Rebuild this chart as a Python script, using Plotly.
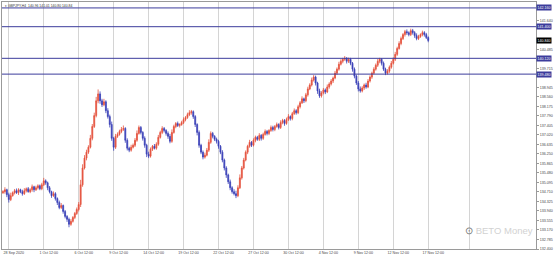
import plotly.graph_objects as go

symbol_title = "GBPJPY,H4  140.96 141.01 140.80 140.84"
first_open = 134.68

closes = [
    134.72, 134.80, 134.60, 134.40, 134.56, 134.68, 134.76, 134.68, 134.80, 134.72, 134.64, 134.76, 134.84, 134.72, 134.80, 134.92, 134.80, 134.88, 134.96, 134.84,
    135.00, 135.16, 135.08, 134.88, 134.72, 134.56, 134.64, 134.44, 134.28, 134.08, 134.16, 133.92, 133.72, 133.60, 133.40, 133.52, 133.68, 133.84, 134.00, 134.20,
    135.00, 135.68, 136.08, 136.32, 136.52, 136.88, 137.36, 137.80, 138.40, 138.68, 138.40, 138.24, 138.36, 138.00, 137.76, 137.44, 136.88, 136.52, 136.96, 137.04,
    137.16, 137.24, 137.28, 136.80, 136.48, 136.40, 136.52, 136.60, 136.80, 137.08, 137.32, 137.12, 136.88, 136.60, 136.24, 136.16, 136.44, 136.56, 136.48, 136.64,
    136.92, 137.12, 137.28, 137.20, 137.08, 136.96, 136.76, 137.12, 137.36, 137.48, 137.40, 137.44, 137.52, 137.64, 137.72, 137.84, 137.92, 137.96, 137.76, 137.44,
    137.12, 136.60, 136.32, 136.12, 136.20, 136.40, 136.72, 137.08, 136.96, 136.84, 136.76, 136.56, 136.32, 136.00, 135.68, 135.40, 135.12, 134.88, 134.72, 134.64,
    134.56, 134.88, 135.28, 135.68, 136.00, 136.32, 136.56, 136.72, 136.60, 136.80, 136.92, 136.84, 137.00, 136.88, 137.04, 137.16, 137.08, 137.20, 137.32, 137.24,
    137.36, 137.44, 137.32, 137.52, 137.60, 137.48, 137.64, 137.76, 137.68, 137.88, 138.00, 137.92, 138.16, 138.32, 138.48, 138.40, 138.64, 138.88, 139.04, 139.24,
    139.36, 139.12, 138.80, 138.60, 138.72, 138.84, 138.76, 138.96, 139.08, 139.20, 139.32, 139.52, 139.68, 139.88, 140.00, 140.08, 140.12, 140.00, 140.08, 139.92,
    139.68, 139.40, 139.12, 138.88, 138.80, 138.92, 139.04, 138.96, 139.20, 139.36, 139.52, 139.68, 139.84, 140.00, 140.08, 139.92, 139.68, 139.52, 139.60, 139.76,
    139.92, 140.08, 140.28, 140.52, 140.72, 140.92, 141.08, 141.20, 141.16, 141.08, 141.24, 141.16, 141.04, 140.92, 141.00, 141.08, 141.16, 141.08, 140.96, 140.84,
]

wick_up = [
    0.06, 0.10, 0.04, 0.08, 0.12, 0.05, 0.07, 0.09, 0.06, 0.04, 0.08, 0.10, 0.05, 0.07, 0.06, 0.09, 0.04, 0.08, 0.06, 0.05,
    0.08, 0.12, 0.06, 0.05, 0.07, 0.04, 0.09, 0.06, 0.05, 0.08, 0.10, 0.04, 0.06, 0.05, 0.07, 0.09, 0.05, 0.06, 0.08, 0.10,
    0.20, 0.15, 0.12, 0.10, 0.08, 0.14, 0.10, 0.12, 0.16, 0.18, 0.10, 0.08, 0.12, 0.06, 0.10, 0.08, 0.12, 0.06, 0.10, 0.08,
    0.07, 0.10, 0.12, 0.05, 0.08, 0.06, 0.10, 0.07, 0.09, 0.12, 0.08, 0.06, 0.05, 0.08, 0.06, 0.10, 0.07, 0.05, 0.09, 0.08,
    0.10, 0.07, 0.09, 0.06, 0.05, 0.08, 0.10, 0.12, 0.07, 0.06, 0.08, 0.05, 0.07, 0.09, 0.06, 0.08, 0.10, 0.07, 0.05, 0.06,
    0.05, 0.08, 0.06, 0.07, 0.10, 0.09, 0.12, 0.08, 0.06, 0.05, 0.07, 0.06, 0.05, 0.08, 0.06, 0.07, 0.05, 0.09, 0.06, 0.10,
    0.12, 0.10, 0.14, 0.08, 0.09, 0.07, 0.06, 0.10, 0.05, 0.08, 0.07, 0.06, 0.09, 0.05, 0.07, 0.08, 0.06, 0.05, 0.08, 0.07,
    0.06, 0.08, 0.05, 0.09, 0.07, 0.06, 0.08, 0.10, 0.05, 0.07, 0.09, 0.06, 0.08, 0.07, 0.10, 0.05, 0.08, 0.09, 0.07, 0.10,
    0.08, 0.06, 0.05, 0.09, 0.07, 0.08, 0.06, 0.10, 0.07, 0.08, 0.06, 0.09, 0.07, 0.10, 0.08, 0.06, 0.09, 0.05, 0.07, 0.06,
    0.05, 0.07, 0.06, 0.08, 0.10, 0.07, 0.06, 0.09, 0.08, 0.07, 0.06, 0.08, 0.07, 0.09, 0.06, 0.05, 0.07, 0.06, 0.08, 0.07,
    0.09, 0.08, 0.10, 0.07, 0.09, 0.08, 0.06, 0.07, 0.09, 0.05, 0.08, 0.07, 0.06, 0.09, 0.07, 0.05, 0.08, 0.06, 0.07, 0.05,
]

wick_dn = [
    0.05, 0.08, 0.10, 0.12, 0.06, 0.04, 0.07, 0.05, 0.09, 0.06, 0.08, 0.05, 0.07, 0.04, 0.06, 0.08, 0.10, 0.05, 0.07, 0.06,
    0.06, 0.05, 0.08, 0.10, 0.07, 0.09, 0.05, 0.08, 0.10, 0.07, 0.06, 0.09, 0.08, 0.10, 0.12, 0.06, 0.05, 0.07, 0.06, 0.08,
    0.10, 0.08, 0.06, 0.09, 0.07, 0.05, 0.08, 0.06, 0.07, 0.10, 0.12, 0.09, 0.06, 0.10, 0.08, 0.12, 0.10, 0.14, 0.07, 0.06,
    0.05, 0.07, 0.06, 0.10, 0.09, 0.08, 0.06, 0.05, 0.07, 0.06, 0.05, 0.08, 0.09, 0.10, 0.12, 0.08, 0.06, 0.07, 0.05, 0.06,
    0.06, 0.05, 0.07, 0.08, 0.09, 0.10, 0.08, 0.06, 0.05, 0.07, 0.06, 0.08, 0.05, 0.06, 0.07, 0.05, 0.06, 0.08, 0.09, 0.10,
    0.12, 0.10, 0.08, 0.09, 0.06, 0.05, 0.07, 0.06, 0.08, 0.07, 0.09, 0.10, 0.08, 0.09, 0.10, 0.12, 0.09, 0.10, 0.08, 0.07,
    0.10, 0.06, 0.05, 0.07, 0.06, 0.05, 0.08, 0.06, 0.07, 0.05, 0.08, 0.06, 0.07, 0.09, 0.06, 0.05, 0.08, 0.07, 0.06, 0.08,
    0.07, 0.05, 0.08, 0.06, 0.07, 0.09, 0.05, 0.06, 0.08, 0.07, 0.05, 0.08, 0.06, 0.07, 0.05, 0.09, 0.06, 0.07, 0.05, 0.06,
    0.06, 0.10, 0.12, 0.08, 0.07, 0.06, 0.09, 0.05, 0.07, 0.06, 0.08, 0.05, 0.07, 0.06, 0.05, 0.08, 0.06, 0.09, 0.07, 0.08,
    0.10, 0.09, 0.08, 0.10, 0.07, 0.06, 0.08, 0.07, 0.05, 0.06, 0.07, 0.05, 0.06, 0.07, 0.08, 0.09, 0.07, 0.08, 0.06, 0.07,
    0.06, 0.05, 0.07, 0.06, 0.05, 0.07, 0.06, 0.08, 0.09, 0.07, 0.06, 0.08, 0.09, 0.07, 0.06, 0.05, 0.07, 0.08, 0.06, 0.07,
]

# bar indices of the time grid / date labels
grid_bars = [3, 21, 39, 57, 75, 93, 111, 129, 147, 165, 183, 201, 219, 240]
date_labels = ["28 Sep 2020", "1 Oct 12:00", "6 Oct 12:00", "9 Oct 12:00", "14 Oct 12:00",
               "19 Oct 12:00", "22 Oct 12:00", "27 Oct 12:00", "30 Oct 12:00", "4 Nov 12:00",
               "9 Nov 12:00", "12 Nov 12:00", "17 Nov 12:00", ""]

# price scale labels (those hidden behind the highlighted level labels are left out)
price_ticks = [132.400, 132.785, 133.170, 133.555, 133.940, 134.325, 134.710, 135.095, 135.480,
               135.865, 136.250, 136.635, 137.020, 137.405, 137.790, 138.175, 138.560, 138.945,
               139.715, 140.485, 141.640]

level_prices = [142.16, 141.40, 140.12, 139.48]
last_price = 140.84

opens = [first_open] + closes[:-1]
highs = [max(o, c) + w for o, c, w in zip(opens, closes, wick_up)]
lows = [min(o, c) - w for o, c, w in zip(opens, closes, wick_dn)]
bars = list(range(len(closes)))

UP = "#e4503c"
DN = "#3a40b8"
LVL = "#3c3c9c"
FONT = "Liberation Sans"

fig = go.Figure(go.Candlestick(
    x=bars, open=opens, high=highs, low=lows, close=closes,
    increasing=dict(line=dict(color=UP, width=0.8), fillcolor=UP),
    decreasing=dict(line=dict(color=DN, width=0.8), fillcolor=DN),
    whiskerwidth=0, showlegend=False, hoverinfo="skip",
))

shapes = []
for p in level_prices:
    shapes.append(dict(type="line", xref="paper", x0=0, x1=1, yref="y", y0=p, y1=p,
                       line=dict(color=LVL, width=1), layer="above"))

annotations = []
for p in level_prices:
    annotations.append(dict(xref="paper", x=1.0, xanchor="left", yref="y", y=p, yanchor="middle",
                            text=f"{p:.3f}", showarrow=False, bgcolor=LVL, borderpad=0.5,
                            font=dict(family=FONT, size=3.6, color="white")))
annotations.append(dict(xref="paper", x=1.0, xanchor="left", yref="y", y=last_price, yanchor="middle",
                        text=f"{last_price:.3f}", showarrow=False, bgcolor="#000000", borderpad=0.5,
                        font=dict(family=FONT, size=3.6, color="white")))
annotations.append(dict(xref="paper", x=0.0, xanchor="left", yref="paper", y=1.0, yanchor="top",
                        text="▾ " + symbol_title, showarrow=False, xshift=1,
                        font=dict(family=FONT, size=3.4, color="#333333")))
annotations.append(dict(xref="paper", x=0.998, xanchor="right", yref="paper", y=0.045, yanchor="bottom",
                        text="<span style='color:#777'>⊙</span> BETO Money", showarrow=False,
                        font=dict(family=FONT, size=9.5, color="#d2d2d2")))

fig.update_layout(
    width=554, height=256,
    margin=dict(l=1, r=14, t=1, b=6),
    paper_bgcolor="white", plot_bgcolor="white",
    shapes=shapes, annotations=annotations,
    xaxis=dict(range=[-0.5, 274.5], rangeslider=dict(visible=False),
               tickvals=grid_bars, ticktext=date_labels, ticklabelshift=5,
               showgrid=True, gridcolor="#d4d4d4", gridwidth=1, zeroline=False,
               showline=True, linecolor="#9a9a9a", linewidth=1, mirror=True,
               ticks="", tickfont=dict(family=FONT, size=3.6, color="#444444")),
    yaxis=dict(range=[132.4, 142.4], side="right", tickvals=price_ticks, tickformat=".3f",
               showgrid=False, zeroline=False, showline=True, linecolor="#9a9a9a", linewidth=1,
               mirror=True, ticks="outside", ticklen=2, tickcolor="#9a9a9a",
               tickfont=dict(family=FONT, size=3.6, color="#444444")),
)

fig.write_html("out.html")
